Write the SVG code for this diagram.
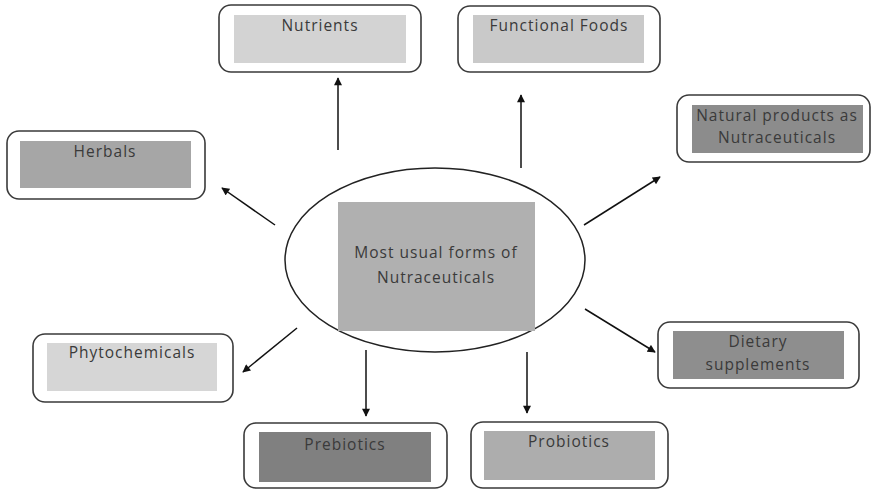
<svg xmlns="http://www.w3.org/2000/svg" width="873" height="492" viewBox="0 0 873 492">
<style>
.outer{fill:#fff;stroke:#3a3a3a;stroke-width:1.6}
.t{font-family:"Open Sans","Noto Sans",sans-serif;font-size:15.5px;letter-spacing:1px;fill:#3a3a3a;text-anchor:middle}
.c{stroke:#111;stroke-width:1.5;fill:none;marker-end:url(#ah)}
</style>
<defs>
<marker id="ah" viewBox="0 0 10 10" refX="9" refY="5" markerWidth="9" markerHeight="8" markerUnits="userSpaceOnUse" orient="auto"><path d="M0,0 L10,5 L0,10 z" fill="#111"/></marker>
</defs>
<rect width="873" height="492" fill="#fff"/>
<g id="connectors">
<line class="c" x1="338" y1="150" x2="338" y2="78"/>
<line class="c" x1="521" y1="168" x2="521" y2="95"/>
<line class="c" x1="275" y1="225" x2="222" y2="188"/>
<line class="c" x1="584" y1="225" x2="660" y2="177"/>
<line class="c" x1="297" y1="328" x2="243" y2="372"/>
<line class="c" x1="585" y1="309" x2="655" y2="352"/>
<line class="c" x1="366" y1="350" x2="366" y2="416"/>
<line class="c" x1="527" y1="352" x2="527" y2="413"/>
</g>
<g id="center">
<ellipse cx="435" cy="260" rx="150" ry="92" fill="#fff" stroke="#222" stroke-width="1.5"/>
<rect x="338" y="202" width="197" height="129" fill="#b0b0b0"/>
<text class="t" x="436" y="258">Most usual forms of</text>
<text class="t" x="436" y="283">Nutraceuticals</text>
</g>
<g id="nutrients">
<rect class="outer" x="219" y="5" width="202" height="67" rx="12"/>
<rect x="234" y="15" width="172" height="48" fill="#d3d3d3"/>
<text class="t" x="320" y="31">Nutrients</text>
</g>
<g id="functional">
<rect class="outer" x="458" y="6" width="202" height="66" rx="12"/>
<rect x="473" y="15" width="171" height="48" fill="#c9c9c9"/>
<text class="t" x="559" y="31">Functional Foods</text>
</g>
<g id="natural">
<rect class="outer" x="677" y="95" width="193" height="67" rx="12"/>
<rect x="692" y="105" width="171" height="48" fill="#8c8c8c"/>
<text class="t" x="777" y="121">Natural products as</text>
<text class="t" x="777" y="143">Nutraceuticals</text>
</g>
<g id="herbals">
<rect class="outer" x="7" y="131" width="198" height="68" rx="12"/>
<rect x="20" y="141" width="171" height="47" fill="#a6a6a6"/>
<text class="t" x="105" y="157">Herbals</text>
</g>
<g id="phytochemicals">
<rect class="outer" x="33" y="334" width="200" height="68" rx="12"/>
<rect x="47" y="343" width="170" height="48" fill="#d6d6d6"/>
<text class="t" x="132" y="358">Phytochemicals</text>
</g>
<g id="dietary">
<rect class="outer" x="658" y="322" width="201" height="66" rx="12"/>
<rect x="673" y="331" width="171" height="48" fill="#8e8e8e"/>
<text class="t" x="758" y="347">Dietary</text>
<text class="t" x="758" y="370">supplements</text>
</g>
<g id="prebiotics">
<rect class="outer" x="244" y="423" width="203" height="65" rx="12"/>
<rect x="259" y="432" width="172" height="50" fill="#808080"/>
<text class="t" x="345" y="450">Prebiotics</text>
</g>
<g id="probiotics">
<rect class="outer" x="471" y="422" width="197" height="66" rx="12"/>
<rect x="484" y="431" width="171" height="49" fill="#adadad"/>
<text class="t" x="569" y="447">Probiotics</text>
</g>
</svg>
